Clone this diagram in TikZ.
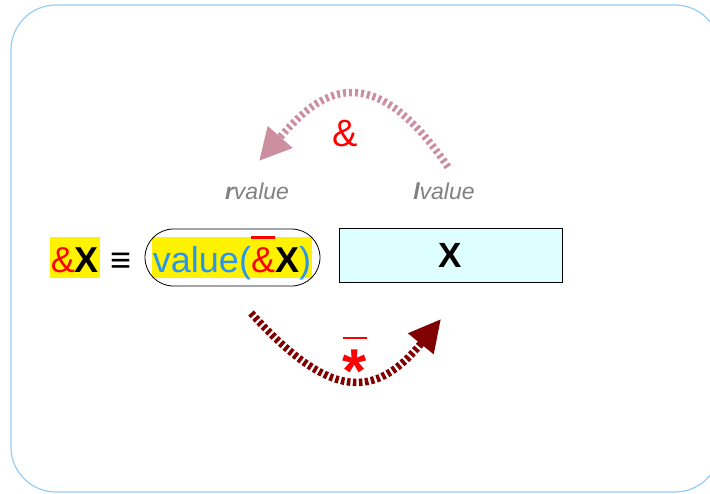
\documentclass[tikz,border=0pt]{standalone}
\usepackage{fontspec}
\setmainfont{Liberation Sans}
\usetikzlibrary{arrows.meta}

\definecolor{framebl}{RGB}{150,205,245}
\definecolor{rosyarc}{RGB}{204,143,162}
\definecolor{darkarc}{RGB}{128,0,0}
\definecolor{valblue}{RGB}{40,150,240}
\definecolor{boxcyan}{RGB}{221,255,255}
\definecolor{lblgray}{RGB}{128,128,128}

% bar of the given raise over a piece of text
\newcommand{\barover}[2]{{\setbox0=\hbox{#2}\rlap{\hbox to \wd0{\hss\raisebox{#1}{\rule{\wd0}{2.5pt}}\hss}}\box0}}

\begin{document}
\begin{tikzpicture}[x=1pt,y=-1pt,
  hilite/.style={fill=yellow,inner xsep=1pt,inner ysep=0pt,text height=35pt,text depth=6pt,anchor=base,font=\fontsize{36}{40}\selectfont},
  vlabel/.style={text=lblgray,font=\fontsize{23}{26}\selectfont\itshape},
  darc/.style={line width=7.5pt,-{Triangle[length=32pt,width=31pt]}}]
\useasboundingbox (0,0) rectangle (710,493);
\draw[framebl,line width=1.2pt,rounded corners=45pt] (11,5) rectangle (720,492);

\node[hilite] (addrx) at (75,272) {\textcolor{red}{\&}\textbf{X}};
\node[anchor=base,font=\fontsize{36}{40}\selectfont\bfseries] (equiv) at (121,272) {≡};
\node[hilite] (valx) at (232,272) {\textcolor{valblue}{value(}\textcolor{red}{\barover{0.93em}{\&}}\textbf{X}\textcolor{valblue}{)}};
\node[draw,line width=0.8pt,minimum width=175pt,minimum height=57pt,rounded corners=28.5pt] (capsule) at (232.5,257.5) {};
\node[draw,line width=0.8pt,fill=boxcyan,minimum width=223pt,minimum height=54pt,font=\fontsize{35}{40}\selectfont\bfseries] (objx) at (450.5,255) {X};

\node[vlabel] (rval) at (257,191) {\textbf{r}value};
\node[vlabel] (lval) at (444,191) {\textbf{l}value};
\node[text=red,font=\fontsize{38}{40}\selectfont] (amp) at (345,134) {\&};
\node[text=red,anchor=base,font=\fontsize{62}{64}\selectfont\bfseries] (deref) at (355,392) {\barover{0.85em}{*}};

\coordinate (lvtail) at (448,167);
\coordinate (rvhead) at (259,161);
\coordinate (captail) at (251,313);
\coordinate (boxhead) at (441,319);
\draw[darc,rosyarc,dash pattern=on 3pt off 3pt] (lvtail) .. controls (365,45) and (312,101) .. (rvhead);
\draw[darc,darkarc,dash pattern=on 3.5pt off 2.5pt] (captail) .. controls (330,400) and (375,400) .. (boxhead);
\end{tikzpicture}
\end{document}
